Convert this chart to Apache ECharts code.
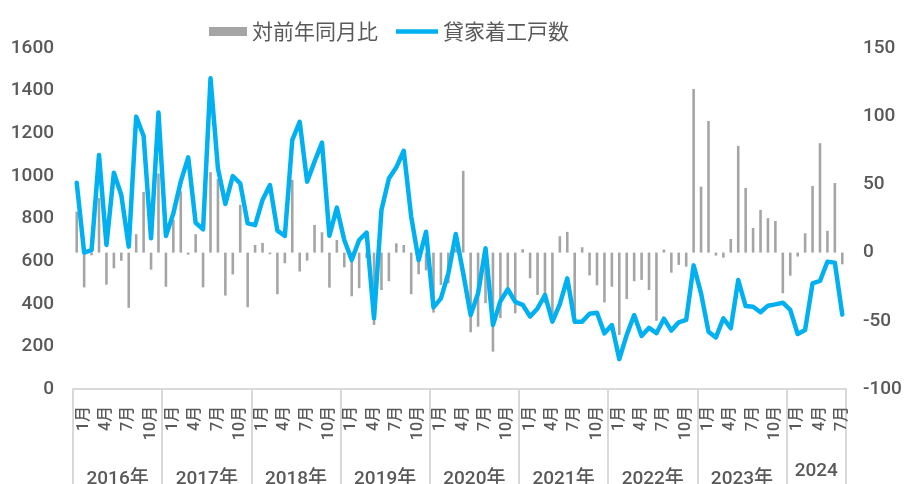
<!DOCTYPE html>
<html>
<head>
<meta charset="utf-8">
<title>貸家着工戸数</title>
<script src="https://cdn.jsdelivr.net/npm/echarts@6/dist/echarts.min.js"></script>
<style>
  html, body { margin: 0; padding: 0; background: #fff; }
  #main { width: 918px; height: 484px; }
</style>
</head>
<body>
<div id="main"></div>
<script>
// 年・月ラベル
const years = ['2016年', '2017年', '2018年', '2019年', '2020年', '2021年', '2022年', '2023年', '2024'];
const yearMonths = [12, 12, 12, 12, 12, 12, 12, 12, 8];
const monthNames = ['1月', '2月', '3月', '4月', '5月', '6月', '7月', '8月', '9月', '10月', '11月', '12月'];

// 貸家着工戸数（左軸）
const starts = [
  968, 640, 652, 1098, 676, 1015, 910, 668, 1278, 1187, 707, 1297,
  718, 824, 973, 1087, 780, 749, 1458, 1035, 868, 999, 965, 777,
  769, 887, 957, 743, 718, 1168, 1254, 973, 1067, 1156, 719, 851,
  699, 605, 699, 734, 332, 840, 988, 1040, 1118, 809, 605, 738,
  383, 425, 543, 727, 543, 347, 449, 660, 300, 412, 468, 409,
  395, 340, 378, 441, 316, 398, 519, 316, 316, 353, 358, 261,
  300, 140, 254, 347, 249, 287, 262, 330, 274, 313, 324, 580,
  449, 269, 242, 332, 285, 511, 389, 386, 360, 391, 397, 405,
  371, 258, 277, 496, 507, 597, 593, 349
];

// 対前年同月比（右軸, %）
const yoy = [
  30, -25.5, -2, 40, -23.5, -11.5, -6, -40.5, 13.5, 44.5, -12.5, 58,
  -25, 24, 45, -1.5, 13.5, -25.5, 59, 54, -31.5, -16, 35, -40,
  5.6, 7.1, -1.2, -30.5, -7.8, 53.3, -13.9, -5.9, 20.3, 14.9, -25.7, 9.3,
  -10.8, -32, -26.1, -4, -53, -27.4, -21, 6.8, 5.6, -30.5, -15.9, -13,
  -44, -23.7, -22.5, 3, 59.9, -58.4, -54.3, -37.1, -72.6, -48, -25.5, -44.5,
  2.5, -18.8, -31, -37, -45, 12, 15.2, -49.4, 3.9, -16.7, -24, -36.5,
  -25, -60.4, -34, -21, -20, -27.4, -50, 2.2, -14.7, -9, -10.3, 120,
  48.4, 96.5, -2.2, -3.7, 10, 78.2, 47.4, 18, 31.3, 25.2, 23.2, -29.8,
  -16.9, -2.9, 14.2, 48.9, 80.2, 16, 51, -8.6
];

const leftTicks = { min: 0, max: 1600, interval: 200 };
const rightTicks = { min: -100, max: 150, interval: 50 };

// カテゴリ（年-月）と年ラベルの中心位置
const categories = [];
const yearCenters = {};
let pos = 0;
years.forEach((y, k) => {
  for (let m = 0; m < yearMonths[k]; m++) {
    categories.push(y + monthNames[m]);
  }
  yearCenters[pos + yearMonths[k] / 2] = y;
  pos += yearMonths[k];
});
const monthOf = (i) => {
  let idx = i;
  for (let k = 0; k < yearMonths.length; k++) {
    if (idx < yearMonths[k]) return idx;
    idx -= yearMonths[k];
  }
  return 0;
};

const gray = '#595959';
const numFont = 'Roboto, "Noto Sans CJK JP", sans-serif';
const legendText = { color: gray, fontSize: 21, fontFamily: '"Noto Sans CJK JP", sans-serif' };
const yearLabel = { color: gray, fontSize: 19, fontWeight: 500, fontFamily: numFont };

const chart = echarts.init(document.getElementById('main'));
const option = {
  animation: false,
  color: ['#A5A5A5', '#00B0F0'],
  grid: { left: 73, right: 72, top: 48, bottom: 95, containLabel: false, outerBoundsMode: 'none' },
  // 凡例は棒と線で別々に置く（アイコンの太さが違うため）
  legend: [
    {
      left: 204,
      top: 16,
      itemWidth: 38,
      itemHeight: 9,
      icon: 'rect',
      textStyle: legendText,
      data: ['対前年同月比']
    },
    {
      left: 391,
      top: 16,
      itemWidth: 42,
      itemHeight: 4.5,
      icon: 'rect',
      textStyle: legendText,
      data: ['貸家着工戸数']
    }
  ],
  xAxis: [
    {
      type: 'category',
      data: categories,
      boundaryGap: true,
      axisLine: { onZero: false, lineStyle: { color: '#D9D9D9', width: 2 } },
      axisTick: {
        show: true,
        length: 96,
        interval: (i) => monthOf(i) === 0,
        lineStyle: { color: '#D9D9D9', width: 2 }
      },
      axisLabel: {
        interval: (i) => monthOf(i) % 3 === 0,
        formatter: (v, i) => monthNames[monthOf(i)],
        rotate: 90,
        margin: 17,
        verticalAlign: 'top',
        lineHeight: 14,
        color: gray,
        fontSize: 16,
        fontWeight: 500,
        fontFamily: numFont
      },
      splitLine: { show: false }
    },
    {
      // 年ラベル用の補助軸
      type: 'value',
      position: 'bottom',
      min: 0,
      max: categories.length,
      interval: 0.5,
      axisLine: { show: false, onZero: false },
      axisTick: { show: false },
      splitLine: { show: false },
      axisLabel: {
        margin: 73,
        showMinLabel: true,
        showMaxLabel: true,
        formatter: (v) => {
          const y = yearCenters[v];
          if (!y) return '';
          return y.indexOf('年') >= 0 ? '{a|' + y + '}' : '{b|' + y + '}';
        },
        rich: {
          a: Object.assign({ padding: [8, 0, 0, 0] }, yearLabel),
          b: yearLabel
        }
      }
    }
  ],
  yAxis: [
    {
      type: 'value',
      min: leftTicks.min,
      max: leftTicks.max,
      interval: leftTicks.interval,
      axisLine: { show: false },
      axisTick: { show: false },
      splitLine: { show: false },
      axisLabel: {
        margin: 19,
        formatter: (v) => String(v),
        color: gray,
        fontSize: 19,
        fontWeight: 500,
        fontFamily: numFont
      }
    },
    {
      type: 'value',
      position: 'right',
      min: rightTicks.min,
      max: rightTicks.max,
      interval: rightTicks.interval,
      axisLine: { show: false },
      axisTick: { show: false },
      splitLine: { show: false },
      axisLabel: {
        margin: 17,
        formatter: (v) => String(v),
        color: gray,
        fontSize: 19,
        fontWeight: 500,
        fontFamily: numFont
      }
    }
  ],
  series: [
    {
      name: '対前年同月比',
      type: 'bar',
      xAxisIndex: 0,
      yAxisIndex: 1,
      barWidth: 2.6,
      itemStyle: { color: '#A5A5A5' },
      data: yoy
    },
    {
      name: '貸家着工戸数',
      type: 'line',
      xAxisIndex: 0,
      yAxisIndex: 0,
      symbol: 'none',
      itemStyle: { color: '#00B0F0' },
      lineStyle: { width: 4.5, color: '#00B0F0', join: 'round', cap: 'round' },
      data: starts
    }
  ]
};
chart.setOption(option);
</script>
</body>
</html>
